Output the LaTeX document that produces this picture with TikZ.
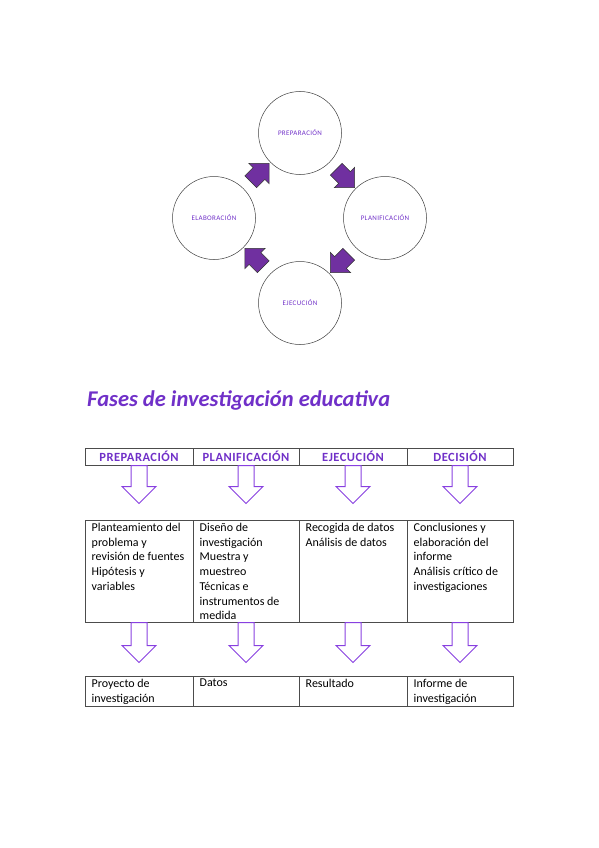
\documentclass[tikz,border=0pt]{standalone}
\usepackage{fontspec}
\setmainfont{Carlito}
\usepackage{tikz}
\usetikzlibrary{arrows.meta,positioning,calc,shapes.arrows}

\definecolor{violeta}{RGB}{112,48,200}
\definecolor{flecha}{RGB}{136,64,224}
\definecolor{morado}{RGB}{112,48,160}

\begin{document}
\begin{tikzpicture}[
  x=1pt, y=-1pt,
  fase/.style={draw=black!75, circle, minimum size=83pt, inner sep=0pt, line width=0.5pt,
               font=\fontsize{7}{8}\selectfont\addfontfeature{LetterSpace=5}, text=violeta},
  giro/.style={single arrow, fill=morado, draw=black!80, line width=0.6pt,
               minimum height=26pt, inner xsep=0pt, inner ysep=8pt,
               single arrow head extend=6pt},
  hdr/.style={draw=black!70, line width=0.6pt, minimum height=17pt, inner sep=0pt,
              outer sep=0pt, text=violeta,
              font=\bfseries\fontsize{12.5}{14}\selectfont\addfontfeature{LetterSpace=4}},
  celda/.style={draw=black!70, line width=0.6pt, inner sep=0pt, outer sep=0pt},
  txt/.style={anchor=north west, align=left, inner xsep=6.5pt, inner ysep=3pt,
              font=\fontsize{12}{14.7}\selectfont},
  baja/.style={single arrow, draw=flecha, line width=1pt, shape border rotate=270,
               anchor=tail, inner xsep=7.5pt, inner ysep=0pt,
               single arrow head extend=9pt, minimum height=38pt},
]
\useasboundingbox (0,0) rectangle (599,848);

% ciclo de fases (arriba)
\node[fase] (prep) at (300,133) {PREPARACIÓN};
\node[fase] (plan) at (385,218) {PLANIFICACIÓN};
\node[fase] (ejec) at (300,303) {EJECUCIÓN};
\node[fase] (elab) at (214,218) {ELABORACIÓN};

\node[giro, rotate=-45] (g1) at ($(prep)!0.5!(plan)$) {};
\node[giro, rotate=-135] (g2) at ($(plan)!0.5!(ejec)$) {};
\node[giro, rotate=135] (g3) at ($(ejec)!0.5!(elab)$) {};
\node[giro, rotate=45] (g4) at ($(elab)!0.5!(prep)$) {};

% titulo
\node[anchor=base west, inner sep=0pt, text=violeta,
      font=\bfseries\itshape\fontsize{22.5}{26}\selectfont] (titulo) at (87,406)
      {Fases de investigación educativa};

% cabecera
\node[hdr, minimum width=108pt] (h1) at (139,456.5) {PREPARACIÓN};
\node[hdr, minimum width=106pt] (h2) at (246,456.5) {PLANIFICACIÓN};
\node[hdr, minimum width=108pt] (h3) at (353,456.5) {EJECUCIÓN};
\node[hdr, minimum width=106pt] (h4) at (460,456.5) {DECISIÓN};

% fila central
\node[celda, minimum width=108pt, minimum height=102pt] (m1) at (139,571) {};
\node[celda, minimum width=106pt, minimum height=102pt] (m2) at (246,571) {};
\node[celda, minimum width=108pt, minimum height=102pt] (m3) at (353,571) {};
\node[celda, minimum width=106pt, minimum height=102pt] (m4) at (460,571) {};

\node[txt] (t1) at (m1.north west) {Planteamiento del\\problema y\\revisión de fuentes\\Hipótesis y\\variables};
\node[txt] (t2) at (m2.north west) {Diseño de\\investigación\\Muestra y\\muestreo\\Técnicas e\\instrumentos de\\medida};
\node[txt] (t3) at (m3.north west) {Recogida de datos\\Análisis de datos};
\node[txt] (t4) at (m4.north west) {Conclusiones y\\elaboración del\\informe\\Análisis crítico de\\investigaciones};

% fila de productos
\node[celda, minimum width=108pt, minimum height=30pt] (p1) at (139,691) {};
\node[celda, minimum width=106pt, minimum height=30pt] (p2) at (246,691) {};
\node[celda, minimum width=108pt, minimum height=30pt] (p3) at (353,691) {};
\node[celda, minimum width=106pt, minimum height=30pt] (p4) at (460,691) {};

\node[txt] (r1) at (p1.north west) {Proyecto de\\investigación};
\node[txt] (r2) at (p2.north west) {Datos};
\node[txt] (r3) at (p3.north west) {Resultado};
\node[txt] (r4) at (p4.north west) {Informe de\\investigación};

% flechas huecas
\node[baja] (a1) at (h1.south) {};
\node[baja] (a2) at (h2.south) {};
\node[baja] (a3) at (h3.south) {};
\node[baja] (a4) at (h4.south) {};

\node[baja, minimum height=40pt] (b1) at (m1.south) {};
\node[baja, minimum height=40pt] (b2) at (m2.south) {};
\node[baja, minimum height=40pt] (b3) at (m3.south) {};
\node[baja, minimum height=40pt] (b4) at (m4.south) {};
\end{tikzpicture}
\end{document}
